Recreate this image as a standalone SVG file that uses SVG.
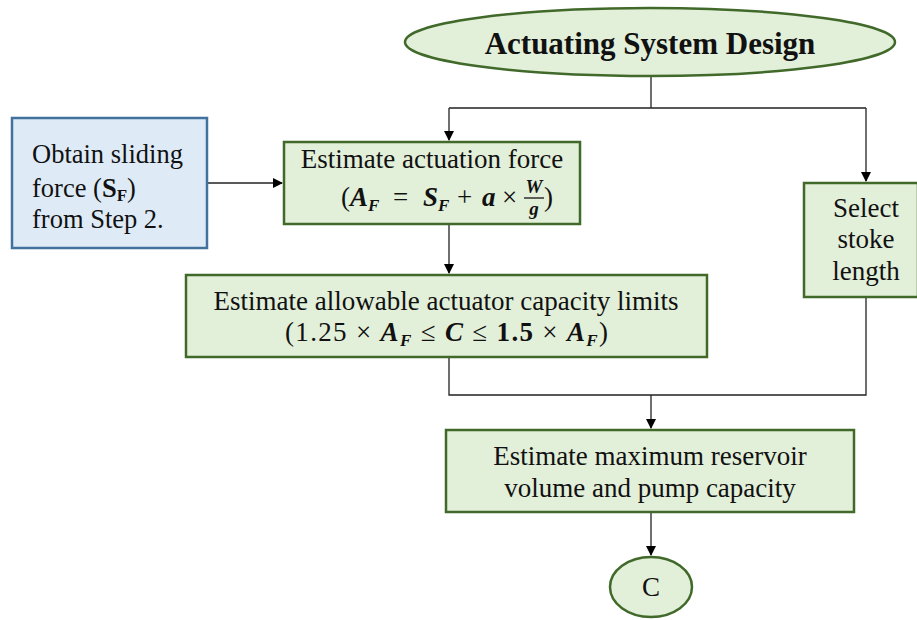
<svg xmlns="http://www.w3.org/2000/svg" width="917" height="620" viewBox="0 0 917 620">
<defs>
<marker id="arr" markerWidth="10" markerHeight="10" refX="9" refY="5" orient="auto" markerUnits="userSpaceOnUse">
<path d="M0,0 L10,5 L0,10 Z" fill="#000"/>
</marker>
<style>
.g{fill:#e2efd9;stroke:#40692a;stroke-width:2.5}
.b{fill:#deebf7;stroke:#41719c;stroke-width:2.5}
.t{font-family:"Liberation Serif","Times New Roman",serif;font-size:27px;fill:#111}
.m{font-weight:bold;font-style:italic}
.s{font-size:17px}
.c{fill:none;stroke:#222;stroke-width:1.3}
</style>
</defs>
<rect width="917" height="620" fill="#fff"/>
<g id="connectors">
<path class="c" d="M651,75 V108 M449,108 H866"/>
<path class="c" d="M449,108 V140" marker-end="url(#arr)"/>
<path class="c" d="M866,108 V181" marker-end="url(#arr)"/>
<path class="c" d="M207,183 H282" marker-end="url(#arr)"/>
<path class="c" d="M449,224 V273" marker-end="url(#arr)"/>
<path class="c" d="M449,357 V395 H866 V297"/>
<path class="c" d="M651,395 V428" marker-end="url(#arr)"/>
<path class="c" d="M651,512 V555" marker-end="url(#arr)"/>
</g>
<g id="start">
<ellipse class="g" cx="650" cy="42" rx="245" ry="34"/>
<text class="t" x="650" y="54" text-anchor="middle" font-weight="bold" style="font-size:31px">Actuating System Design</text>
</g>
<g id="obtain">
<rect class="b" x="12" y="118" width="195" height="130"/>
<text class="t" x="32" y="163" style="font-size:26.5px">Obtain sliding</text>
<text class="t" x="32" y="197" style="font-size:26.5px">force (<tspan font-weight="bold">S</tspan><tspan font-weight="bold" class="s" dy="4">F</tspan><tspan dy="-4">)</tspan></text>
<text class="t" x="32" y="228" style="font-size:26.5px">from Step 2.</text>
</g>
<g id="actuation">
<rect class="g" x="284" y="142" width="296" height="82"/>
<text class="t" x="432" y="168" text-anchor="middle">Estimate actuation force</text>
<text class="t" x="341" y="206">(</text>
<text class="t m" x="350" y="206">A</text>
<text class="t m s" x="368" y="211">F</text>
<text class="t" x="393" y="206">=</text>
<text class="t m" x="423" y="206">S</text>
<text class="t m s" x="438" y="211">F</text>
<text class="t" x="457" y="206">+</text>
<text class="t m" x="482" y="206">a</text>
<text class="t" x="502" y="206">×</text>
<text class="t m" x="534" y="193" text-anchor="middle" style="font-size:19px">W</text>
<line x1="524" y1="198" x2="544" y2="198" stroke="#111" stroke-width="1.3"/>
<text class="t m" x="534" y="215" text-anchor="middle" style="font-size:19px">g</text>
<text class="t" x="544" y="206">)</text>
</g>
<g id="capacity">
<rect class="g" x="186" y="275" width="521" height="82"/>
<text class="t" x="446" y="310" text-anchor="middle">Estimate allowable actuator capacity limits</text>
<text class="t" x="285" y="341" textLength="323" lengthAdjust="spacing">(1.25 × <tspan class="m">A</tspan><tspan class="m s" dy="5">F</tspan><tspan dy="-5"> ≤ </tspan><tspan class="m">C</tspan> ≤ <tspan font-weight="bold">1.5</tspan> × <tspan class="m">A</tspan><tspan class="m s" dy="5">F</tspan><tspan dy="-5">)</tspan></text>
</g>
<g id="stroke">
<rect class="g" x="804" y="183" width="114" height="114"/>
<text class="t" x="866" y="217" text-anchor="middle">Select</text>
<text class="t" x="866" y="248" text-anchor="middle">stoke</text>
<text class="t" x="866" y="280" text-anchor="middle">length</text>
</g>
<g id="reservoir">
<rect class="g" x="446" y="430" width="408" height="82"/>
<text class="t" x="650" y="465" text-anchor="middle">Estimate maximum reservoir</text>
<text class="t" x="650" y="497" text-anchor="middle">volume and pump capacity</text>
</g>
<g id="endC">
<ellipse class="g" cx="651" cy="587" rx="41" ry="30"/>
<text class="t" x="651" y="596" text-anchor="middle">C</text>
</g>
</svg>
